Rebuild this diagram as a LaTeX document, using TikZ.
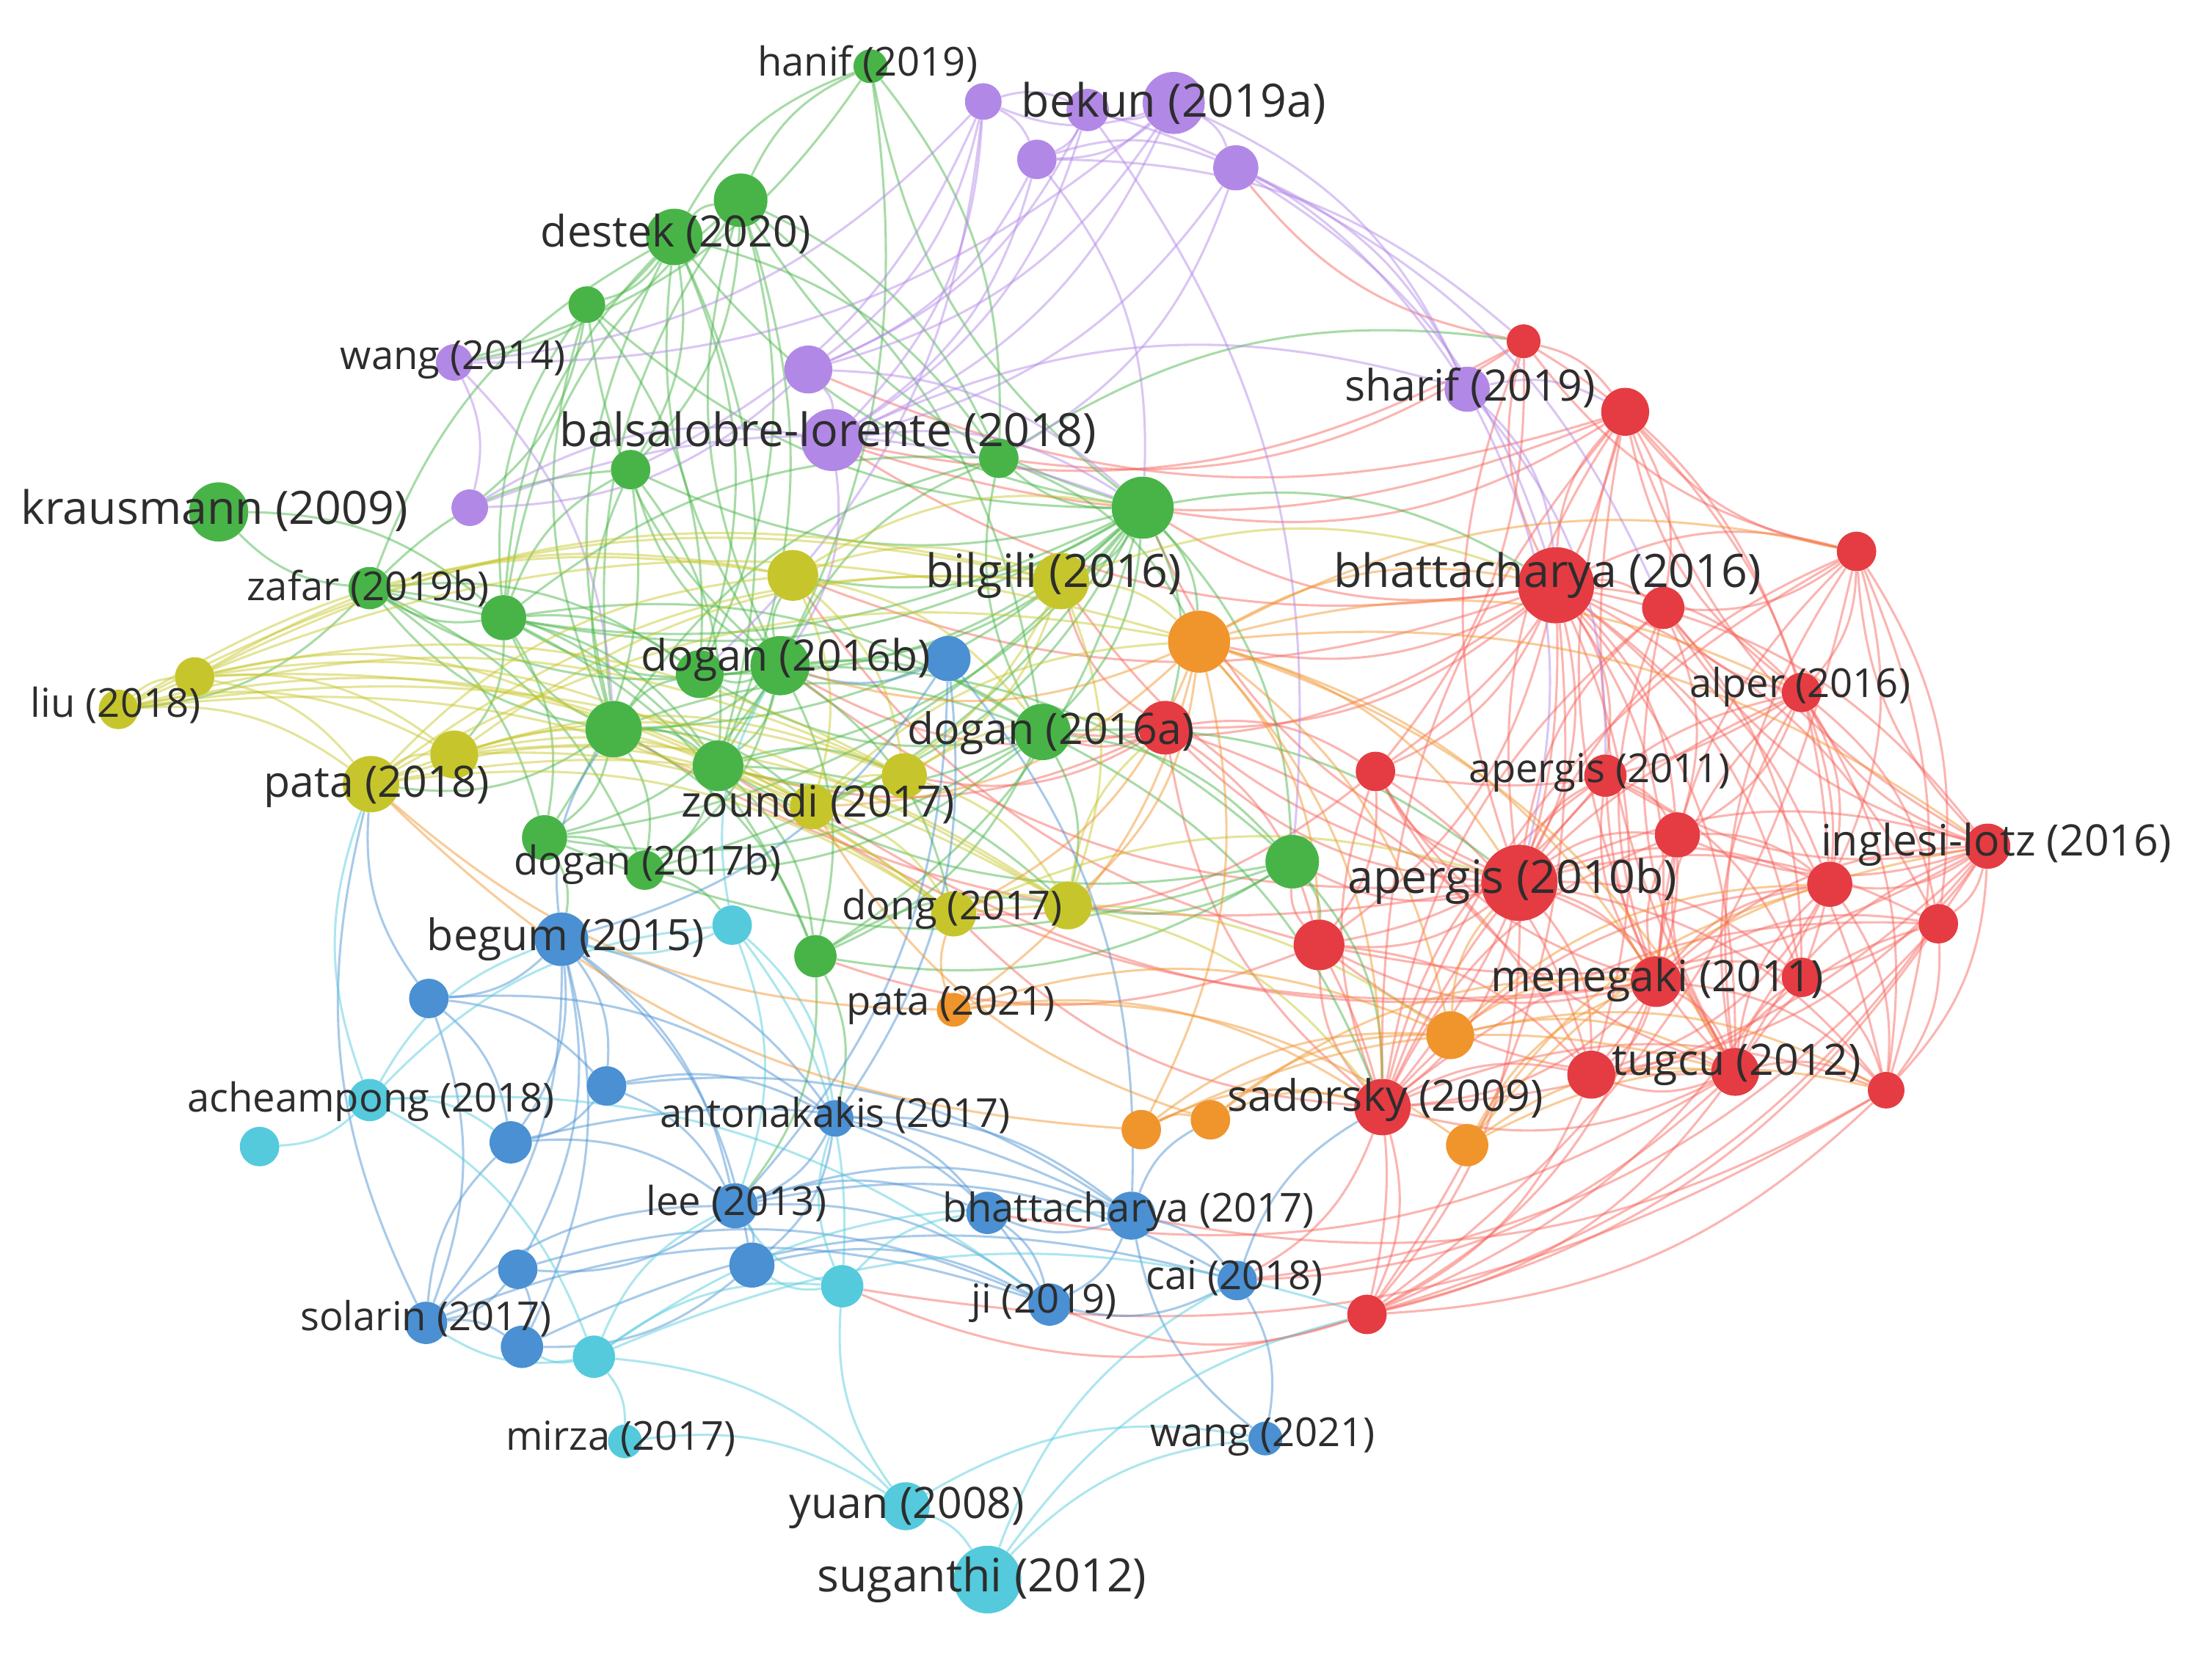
\documentclass[tikz,border=0pt]{standalone}
\usepackage{fontspec}
\setmainfont{Open Sans}
\pgfdeclarelayer{edges}
\pgfsetlayers{edges,main}
\definecolor{cred}{RGB}{228,60,66}
\definecolor{cgreen}{RGB}{72,180,72}
\definecolor{cblue}{RGB}{74,144,210}
\definecolor{cyel}{RGB}{198,198,44}
\definecolor{cpur}{RGB}{178,136,230}
\definecolor{cora}{RGB}{240,148,44}
\definecolor{ccya}{RGB}{84,202,220}
\definecolor{ered}{RGB}{246,100,92}
\definecolor{txt}{RGB}{45,45,45}
\tikzset{
  vn/.style={circle,inner sep=0pt,draw=none},
  labL/.style={text=txt,inner sep=0pt,font=\fontsize{32.6}{34}\selectfont},
  labM/.style={text=txt,inner sep=0pt,font=\fontsize{30.7}{32}\selectfont},
  labS/.style={text=txt,inner sep=0pt,font=\fontsize{28.3}{30}\selectfont},
  edge/.style={line width=1.6pt,draw opacity=0.48},
  er/.style={edge,draw=ered},
  eg/.style={edge,draw=cgreen},
  ey/.style={edge,draw=cyel},
  eb/.style={edge,draw=cblue},
  ec/.style={edge,draw=ccya},
  eo/.style={edge,draw=cora},
  ep/.style={edge,draw=cpur}
}
\newcommand\vnode[5]{\node[vn,fill=#5,minimum size=#4*2pt] (#1) at (#2,-#3) {};}
\newcommand\vlab[5]{\node[lab#5] (l#1) at (#2,-#3) {#4};}
\begin{document}
\begin{tikzpicture}[x=1pt,y=1pt]
\useasboundingbox (0,0) rectangle (1568,-1172);
% purple
\vnode{pa}{697}{72}{13}{cpur}
\vnode{pb}{771}{78}{15}{cpur}
\vnode{bekun}{832}{73}{22}{cpur}
\vnode{pc}{735}{113}{14}{cpur}
\vnode{pd}{876}{119}{16}{cpur}
\vnode{pe}{573}{262}{17}{cpur}
\vnode{balsa}{590}{312}{22}{cpur}
\vnode{wangf}{322}{257}{13}{cpur}
\vnode{pf}{333}{360}{13}{cpur}
\vnode{sharif}{1040}{276}{16}{cpur}
% green
\vnode{hanif}{617}{47}{12}{cgreen}
\vnode{ga}{525}{142}{19}{cgreen}
\vnode{destek}{478}{168}{20}{cgreen}
\vnode{gb}{416}{216}{13}{cgreen}
\vnode{gc}{447}{333}{14}{cgreen}
\vnode{gd}{708}{325}{14}{cgreen}
\vnode{ge}{810}{360}{22}{cgreen}
\vnode{kraus}{155}{363}{21}{cgreen}
\vnode{zafar}{262}{417}{15}{cgreen}
\vnode{gf}{357}{438}{16}{cgreen}
\vnode{gg}{496}{478}{17}{cgreen}
\vnode{dogansb}{553}{472}{21}{cgreen}
\vnode{gh}{435}{517}{20}{cgreen}
\vnode{gi}{509}{543}{18}{cgreen}
\vnode{dogansa}{739}{519}{20}{cgreen}
\vnode{gj}{386}{594}{16}{cgreen}
\vnode{doganeb}{457}{617}{14}{cgreen}
\vnode{gk}{578}{678}{15}{cgreen}
\vnode{gl}{916}{611}{19}{cgreen}
% yellow
\vnode{liu}{84}{503}{14}{cyel}
\vnode{ya}{138}{480}{14}{cyel}
\vnode{pataeb}{263}{556}{20}{cyel}
\vnode{yb}{322}{535}{17}{cyel}
\vnode{yc}{562}{408}{18}{cyel}
\vnode{bilgili}{752}{412}{20}{cyel}
\vnode{zoundi}{576}{572}{16}{cyel}
\vnode{yd}{641}{550}{16}{cyel}
\vnode{dong}{676}{648}{16}{cyel}
\vnode{ye}{757}{642}{17}{cyel}
% blue
\vnode{ba}{672}{467}{16}{cblue}
\vnode{begum}{398}{666}{19}{cblue}
\vnode{bb}{304}{708}{14}{cblue}
\vnode{bc}{430}{770}{14}{cblue}
\vnode{bd}{362}{810}{15}{cblue}
\vnode{anton}{592}{793}{13}{cblue}
\vnode{lee}{521}{855}{16}{cblue}
\vnode{be}{533}{897}{16}{cblue}
\vnode{bf}{367}{900}{14}{cblue}
\vnode{solarin}{302}{938}{15}{cblue}
\vnode{bg}{370}{955}{15}{cblue}
\vnode{bh}{700}{860}{15}{cblue}
\vnode{bhatse}{802}{862}{17}{cblue}
\vnode{ji}{744}{925}{15}{cblue}
\vnode{cai}{877}{908}{14}{cblue}
\vnode{wangtw}{897}{1020}{12}{cblue}
% cyan
\vnode{ca}{519}{656}{14}{ccya}
\vnode{achea}{262}{780}{15}{ccya}
\vnode{cb}{184}{813}{14}{ccya}
\vnode{cc}{597}{912}{15}{ccya}
\vnode{cd}{421}{962}{15}{ccya}
\vnode{mirza}{443}{1022}{12}{ccya}
\vnode{yuan}{642}{1068}{17}{ccya}
\vnode{sugan}{700}{1120}{24}{ccya}
% orange
\vnode{oa}{850}{455}{22}{cora}
\vnode{patatw}{676}{716}{12}{cora}
\vnode{ob}{809}{801}{14}{cora}
\vnode{oc}{858}{794}{14}{cora}
\vnode{od}{1028}{734}{17}{cora}
\vnode{oe}{1040}{812}{15}{cora}
% red
\vnode{ra}{826}{516}{19}{cred}
\vnode{rb}{1080}{242}{12}{cred}
\vnode{rc}{1152}{292}{17}{cred}
\vnode{bhatss}{1103}{415}{27}{cred}
\vnode{rd}{1179}{431}{15}{cred}
\vnode{rf}{1316}{391}{14}{cred}
\vnode{alper}{1277}{491}{14}{cred}
\vnode{rg}{975}{547}{14}{cred}
\vnode{aperea}{1138}{550}{15}{cred}
\vnode{rh}{1189}{592}{16}{cred}
\vnode{ingl}{1409}{600}{16}{cred}
\vnode{ri}{1297}{627}{16}{cred}
\vnode{rj}{1374}{655}{14}{cred}
\vnode{aperob}{1077}{626}{27}{cred}
\vnode{rk}{935}{670}{18}{cred}
\vnode{mene}{1174}{696}{18}{cred}
\vnode{rl}{1277}{693}{14}{cred}
\vnode{tugcu}{1230}{760}{17}{cred}
\vnode{rm}{1128}{762}{17}{cred}
\vnode{rn}{1337}{773}{13}{cred}
\vnode{sador}{980}{785}{20}{cred}
\vnode{ro}{969}{932}{14}{cred}
% labels
\vlab{hanif}{615}{45}{hanif (2019)}{S}
\vlab{bekun}{832}{73}{bekun (2019a)}{L}
\vlab{destek}{479}{166}{destek (2020)}{M}
\vlab{wangf}{321}{255}{wang (2014)}{S}
\vlab{sharif}{1042}{275}{sharif (2019)}{M}
\vlab{balsa}{587}{307}{balsalobre-lorente (2018)}{L}
\vlab{kraus}{152}{362}{krausmann (2009)}{L}
\vlab{bilgili}{747}{408}{bilgili (2016)}{L}
\vlab{bhatss}{1097}{408}{bhattacharya (2016)}{L}
\vlab{zafar}{261}{417}{zafar (2019b)}{S}
\vlab{dogansb}{557}{468}{dogan (2016b)}{M}
\vlab{alper}{1276}{487}{alper (2016)}{S}
\vlab{liu}{82}{500}{liu (2018)}{S}
\vlab{dogansa}{745}{520}{dogan (2016a)}{M}
\vlab{aperea}{1134}{548}{apergis (2011)}{S}
\vlab{pataeb}{267}{558}{pata (2018)}{M}
\vlab{zoundi}{580}{570}{zoundi (2017)}{M}
\vlab{ingl}{1415}{599}{inglesi-lotz (2016)}{M}
\vlab{doganeb}{459}{613}{dogan (2017b)}{S}
\vlab{aperob}{1072}{625}{apergis (2010b)}{L}
\vlab{dong}{675}{645}{dong (2017)}{S}
\vlab{begum}{401}{666}{begum (2015)}{M}
\vlab{mene}{1175}{695}{menegaki (2011)}{M}
\vlab{patatw}{674}{713}{pata (2021)}{S}
\vlab{tugcu}{1231}{755}{tugcu (2012)}{M}
\vlab{sador}{982}{780}{sadorsky (2009)}{M}
\vlab{achea}{263}{781}{acheampong (2018)}{S}
\vlab{anton}{592}{791}{antonakakis (2017)}{S}
\vlab{lee}{522}{853}{lee (2013)}{S}
\vlab{bhatse}{800}{859}{bhattacharya (2017)}{S}
\vlab{cai}{875}{906}{cai (2018)}{S}
\vlab{ji}{740}{924}{ji (2019)}{S}
\vlab{solarin}{302}{935}{solarin (2017)}{S}
\vlab{mirza}{440}{1020}{mirza (2017)}{S}
\vlab{wangtw}{895}{1019}{wang (2021)}{S}
\vlab{yuan}{643}{1069}{yuan (2008)}{M}
\vlab{sugan}{696}{1120}{suganthi (2012)}{L}
\begin{pgfonlayer}{edges}
% red
\foreach \a/\b in {bhatss/rb,bhatss/rc,bhatss/rd,bhatss/rf,bhatss/alper,bhatss/rg,bhatss/aperea,bhatss/rh,bhatss/ingl,bhatss/ri,bhatss/rj,bhatss/aperob,bhatss/rk,bhatss/mene,bhatss/rl,bhatss/tugcu,bhatss/rm,bhatss/rn,bhatss/sador,bhatss/ro,bhatss/ra,
aperob/rc,aperob/rd,aperob/rf,aperob/alper,aperob/rg,aperob/aperea,aperob/rh,aperob/ingl,aperob/ri,aperob/rj,aperob/rk,aperob/mene,aperob/rl,aperob/tugcu,aperob/rm,aperob/rn,aperob/sador,aperob/ro,aperob/ra,aperob/rb,
mene/rc,mene/rf,mene/alper,mene/aperea,mene/rh,mene/ingl,mene/ri,mene/rj,mene/rk,mene/rl,mene/tugcu,mene/rm,mene/rn,mene/sador,mene/ro,mene/rg,mene/rd,
tugcu/rf,tugcu/alper,tugcu/aperea,tugcu/rh,tugcu/ingl,tugcu/ri,tugcu/rj,tugcu/rk,tugcu/rl,tugcu/rm,tugcu/rn,tugcu/sador,tugcu/ro,tugcu/rc,tugcu/rg,tugcu/rd,
ingl/rf,ingl/alper,ingl/ri,ingl/rj,ingl/rn,ingl/rl,ingl/rh,ingl/aperea,ingl/rc,ingl/rd,ingl/sador,ingl/ro,ingl/rk,ingl/rm,
sador/rc,sador/rd,sador/alper,sador/aperea,sador/rh,sador/ri,sador/rj,sador/rk,sador/rm,sador/rn,sador/ro,sador/ra,sador/rg,sador/rf,
rf/alper,rf/ri,rf/rj,rf/rn,rf/rc,rf/rb,rf/rd,rf/ro,
alper/rj,alper/ri,alper/rn,alper/rl,alper/rh,alper/rc,alper/rg,alper/rd,
rb/rc,rc/rd,rg/rk,rk/rm,ra/rk,ra/rg,ri/rn,rj/rn,rl/rn,rh/ri,aperea/rh,rc/rg,rd/rh,rk/ro,rm/ro,rn/ro,rj/ro,ri/rm,rl/rm,aperea/rk,rb/rg,rb/alper,rc/ri,rd/rl,rh/rm,aperea/rl,rg/rm,ra/rm,
aperob/gl,aperob/ge,bhatss/ge,bhatss/balsa,bhatss/oa,ra/dogansa,ra/gi,ra/dogansb,ra/bilgili,rk/gl,aperob/bilgili,bhatss/dogansa,rb/balsa,rc/pe,sador/cai,tugcu/cai,ro/ji,ro/cc,rb/gd,rc/ge,aperob/gh,bhatss/yc,ri/ro,rj/cai,rn/bhatse,mene/zoundi,aperob/dogansb,rk/gk,ra/yd,rg/dong,tugcu/bh,rn/cc,rc/balsa,rb/pd,mene/gi,sador/dong,rk/yc}
  \draw[er] (\a) to[bend left=20] (\b);
% green
\foreach \a/\b in {ge/ga,ge/destek,ge/gb,ge/gc,ge/gd,ge/zafar,ge/gf,ge/gg,ge/dogansb,ge/gh,ge/gi,ge/dogansa,ge/gj,ge/doganeb,ge/gk,ge/gl,ge/hanif,
dogansb/ga,dogansb/destek,dogansb/gb,dogansb/gc,dogansb/gd,dogansb/zafar,dogansb/gf,dogansb/gg,dogansb/gh,dogansb/gi,dogansb/dogansa,dogansb/gj,dogansb/doganeb,dogansb/gk,dogansb/gl,
gh/ga,gh/destek,gh/gb,gh/gc,gh/gd,gh/zafar,gh/gf,gh/gg,gh/gi,gh/dogansa,gh/gj,gh/doganeb,gh/gk,
gf/zafar,gf/destek,gf/gb,gf/gc,gf/gg,gf/gi,gf/gj,gf/dogansa,gf/gk,gf/ga,gf/gd,
zafar/kraus,zafar/destek,zafar/gc,zafar/gg,zafar/gi,zafar/gj,zafar/doganeb,
destek/ga,destek/gb,destek/gc,destek/gd,destek/hanif,destek/gg,destek/gi,
ga/hanif,ga/gc,ga/gd,ga/gg,ga/gi,ga/dogansa,
dogansa/gd,dogansa/gi,dogansa/gj,dogansa/gk,dogansa/gl,dogansa/gg,dogansa/doganeb,
gl/gi,gl/gk,gl/gj,hanif/gd,hanif/gi,kraus/gf,gb/gg,gc/gi,gj/doganeb,gi/doganeb,gi/gk,gc/gj,
ge/bilgili,ge/yc,dogansb/yc,gh/pataeb,gf/yb,ge/zoundi,gh/zoundi,dogansb/dong,gi/ye,dogansa/ye,gj/begum,gk/anton,doganeb/ca,dogansa/aperob,ge/bhatss,gl/sador,dogansa/sador,gd/rb,gk/ye,gl/ye,gi/yd,ge/oa,gl/rk,ge/ra,gd/oa,zafar/liu,hanif/wangf,destek/wangf,gk/lee,gb/pf}
  \draw[eg] (\a) to[bend left=20] (\b);
% purple
\foreach \a/\b in {bekun/pa,bekun/pb,bekun/pc,bekun/pd,bekun/pe,bekun/balsa,bekun/sharif,bekun/wangf,pa/pb,pa/pc,pb/pc,pc/pd,pd/sharif,pe/balsa,wangf/pf,pf/balsa,balsa/sharif,pa/pe,pa/balsa,pb/balsa,pd/balsa,pc/pe,pa/wangf,pd/bhatss,sharif/bhatss,sharif/aperob,sharif/rc,pc/ge,pe/pf,balsa/dogansb,balsa/ge,pb/gl,pc/rb,pa/gc,wangf/gh,pf/ge,pb/sharif,pc/balsa,pe/ge,pd/rd,sharif/aperea,pa/gg,pb/pe,pd/gd}
  \draw[ep] (\a) to[bend left=20] (\b);
% yellow
\foreach \a/\b in {liu/ya,liu/pataeb,liu/yb,liu/yc,liu/bilgili,liu/zoundi,liu/dong,liu/yd,ya/pataeb,ya/yb,ya/yc,ya/bilgili,ya/zoundi,ya/dong,pataeb/yb,pataeb/yc,pataeb/bilgili,pataeb/zoundi,pataeb/dong,pataeb/ye,pataeb/yd,yb/zoundi,yb/yd,yb/dong,yc/bilgili,yc/zoundi,yc/yd,bilgili/zoundi,bilgili/ye,bilgili/yd,zoundi/yd,zoundi/dong,yd/ye,dong/ye,bilgili/oa,pataeb/oa,liu/oa,zoundi/oa,dong/aperob,ye/sador,ya/gh,yc/ge,bilgili/bhatss,yd/ra,ye/ra,yb/gi,yc/dogansa,dong/od,liu/ye,ya/yd,yb/ye,yb/bilgili}
  \draw[ey] (\a) to[bend left=20] (\b);
% blue
\foreach \a/\b in {begum/bb,begum/bc,begum/bd,begum/anton,begum/lee,begum/be,begum/bf,begum/solarin,begum/bg,bb/bc,bb/bd,bb/solarin,bc/anton,bc/lee,bc/bd,anton/lee,anton/be,anton/bhatse,anton/bh,anton/ji,lee/be,lee/bf,lee/bh,lee/ji,lee/cai,be/bg,bf/solarin,bf/bg,solarin/bg,solarin/bd,bhatse/bh,bhatse/ji,bhatse/cai,bh/ji,cai/wangtw,cai/ji,ba/begum,ba/bhatse,ba/anton,wangtw/bhatse,lee/bhatse,be/ji,solarin/ji,bg/cai,bd/bhatse,solarin/lee,ba/lee,bb/anton,begum/gh,ba/dogansb,bhatse/oc,cai/sador,bb/pataeb,solarin/pataeb,bf/ji,bd/lee,bc/bhatse}
  \draw[eb] (\a) to[bend left=20] (\b);
% cyan
\foreach \a/\b in {achea/cb,achea/ca,achea/cd,achea/pataeb,achea/begum,ca/cc,ca/anton,ca/lee,cc/lee,cc/anton,cc/bh,cd/mirza,cd/solarin,cd/bg,cd/lee,cd/cc,mirza/yuan,yuan/sugan,yuan/wangtw,sugan/wangtw,sugan/cai,yuan/cc,sugan/ro,cd/yuan,achea/ji,ca/begum,ca/dogansb,cc/be,achea/bd,cd/bhatse,cd/ro}
  \draw[ec] (\a) to[bend left=20] (\b);
% orange
\foreach \a/\b in {oa/aperob,oa/bhatss,oa/mene,oa/sador,oa/tugcu,oa/od,oa/ob,oa/patatw,oa/dong,oa/ye,patatw/od,patatw/sador,patatw/oe,patatw/dong,ob/oc,ob/sador,oc/sador,oc/od,ob/od,od/mene,od/tugcu,oe/tugcu,oe/mene,oe/ingl,od/rn,ob/pataeb,oc/zoundi,oe/rn,od/aperob,oa/rk,oa/ingl,oa/alper,patatw/pataeb,oe/ri,od/ri,ob/tugcu,oa/zoundi,oa/dogansb,oa/rf,oc/mene}
  \draw[eo] (\a) to[bend left=20] (\b);
\end{pgfonlayer}
\end{tikzpicture}
\end{document}
